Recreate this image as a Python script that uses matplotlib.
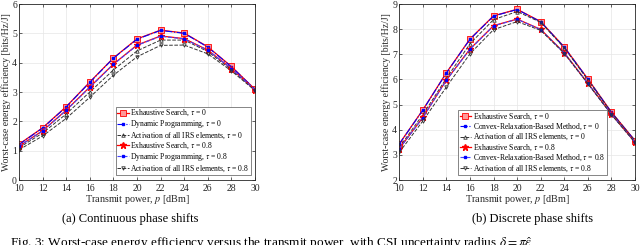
import matplotlib
matplotlib.use("Agg")
import matplotlib.pyplot as plt

plt.rcParams['font.family'] = ['Liberation Serif', 'DejaVu Serif']
plt.rcParams['mathtext.fontset'] = 'stix'

p = [10, 12, 14, 16, 18, 20, 22, 24, 26, 28, 30]

# (a) Continuous phase shifts
a_es0 = [1.22, 1.78, 2.50, 3.34, 4.16, 4.81, 5.11, 5.01, 4.54, 3.87, 3.09]
a_dp0 = [1.21, 1.77, 2.49, 3.33, 4.15, 4.80, 5.10, 5.00, 4.53, 3.86, 3.09]
a_all0 = [1.10, 1.60, 2.25, 3.00, 3.75, 4.40, 4.77, 4.77, 4.38, 3.76, 3.07]
a_es8 = [1.15, 1.68, 2.38, 3.17, 3.95, 4.60, 4.91, 4.82, 4.43, 3.80, 3.07]
a_dp8 = [1.15, 1.67, 2.37, 3.16, 3.94, 4.59, 4.90, 4.81, 4.42, 3.80, 3.07]
a_all8 = [1.03, 1.50, 2.10, 2.82, 3.57, 4.20, 4.59, 4.60, 4.30, 3.72, 3.05]

# (b) Discrete phase shifts
b_es0 = [3.44, 4.79, 6.27, 7.61, 8.53, 8.79, 8.30, 7.29, 6.02, 4.70, 3.57]
b_cr0 = [3.43, 4.78, 6.26, 7.60, 8.52, 8.78, 8.29, 7.28, 6.01, 4.69, 3.56]
b_all0 = [3.30, 4.60, 6.05, 7.42, 8.38, 8.70, 8.27, 7.25, 5.98, 4.68, 3.55]
b_es8 = [3.25, 4.49, 5.98, 7.21, 8.14, 8.40, 7.99, 7.06, 5.85, 4.62, 3.50]
b_cr8 = [3.24, 4.48, 5.97, 7.20, 8.13, 8.39, 7.98, 7.05, 5.84, 4.61, 3.50]
b_all8 = [3.10, 4.35, 5.70, 7.02, 7.98, 8.30, 7.95, 7.03, 5.83, 4.60, 3.49]

xticks = [10, 12, 14, 16, 18, 20, 22, 24, 26, 28, 30]

fig = plt.figure(figsize=(6.4, 2.45), dpi=100)

def style_axes(ax, ylim, yticks):
    ax.set_xlim(10, 30)
    ax.set_ylim(*ylim)
    ax.set_xticks(xticks)
    ax.set_yticks(yticks)
    ax.grid(True, color='#e6e6e6', linewidth=0.5)
    ax.set_axisbelow(True)
    ax.tick_params(direction='in', length=2, width=0.5, labelsize=7,
                   top=True, right=True, pad=1.5, colors='#262626')
    ax.tick_params(axis='x', pad=3)
    for s in ax.spines.values():
        s.set_linewidth(0.6)
        s.set_color('#262626')
    ax.set_xlabel('Transmit power, $p$ [dBm]', fontsize=7.3, labelpad=0, color='#262626')
    ax.set_ylabel('Worst-case energy efficiency [bits/Hz/J]', fontsize=7, labelpad=1, color='#262626')

def draw(ax, es0, m0, all0, es8, m8, all8, mname, legpos):
    ax.plot(p, es0, '-', color='red', lw=0.9, marker='s', ms=4,
            mfc='#ff9999', mec='red', mew=0.6,
            label=r'Exhaustive Search, $\tau$ = 0')
    ax.plot(p, m0, '-.', color='blue', lw=0.8, marker='s', ms=1.8,
            mfc='blue', mec='blue',
            label=mname + r', $\tau$ = 0')
    ax.plot(p, all0, '--', color='#333333', lw=0.7, marker='^', ms=2.5,
            mfc='none', mec='#333333', mew=0.6,
            label=r'Activation of all IRS elements, $\tau$ = 0')
    ax.plot(p, es8, '-', color='red', lw=0.9, marker='*', ms=4.5,
            mfc='red', mec='red',
            label=r'Exhaustive Search, $\tau$ = 0.8')
    ax.plot(p, m8, '--', color='#4444ff', lw=0.8, marker='s', ms=1.8,
            mfc='blue', mec='blue',
            label=mname + r', $\tau$ = 0.8')
    ax.plot(p, all8, '--', color='#333333', lw=0.7, marker='v', ms=2.5,
            mfc='none', mec='#333333', mew=0.6,
            label=r'Activation of all IRS elements, $\tau$ = 0.8')
    leg = ax.legend(loc='lower right', bbox_to_anchor=legpos, fontsize=5.5,
                    frameon=True, fancybox=False, framealpha=1,
                    edgecolor='#555555', borderpad=0.2, labelspacing=0.0,
                    handlelength=1.5, handletextpad=0.25, borderaxespad=0)
    leg.get_frame().set_linewidth(0.5)

axa = fig.add_axes([19/640, 1-180/245, 236/640, 176/245])
draw(axa, a_es0, a_dp0, a_all0, a_es8, a_dp8, a_all8, 'Dynamic Programming', (0.983, 0.028))
style_axes(axa, (0, 6), [0, 1, 2, 3, 4, 5, 6])

axb = fig.add_axes([399.3/640, 1-180/245, 235.7/640, 176/245])
draw(axb, b_es0, b_cr0, b_all0, b_es8, b_cr8, b_all8, 'Convex-Relaxation-Based Method', (0.881, 0.028))
style_axes(axb, (2, 9), [2, 3, 4, 5, 6, 7, 8, 9])

fig.text(130/640, 1-219/245, '(a) Continuous phase shifts', ha='center', va='center', fontsize=9)
fig.text(533/640, 1-219/245, '(b) Discrete phase shifts', ha='center', va='center', fontsize=9)
fig.text(10/640, 1-244/245, r'Fig. 3: Worst-case energy efficiency versus the transmit power, with CSI uncertainty radius $\delta = \pi\hat{\epsilon}$',
         ha='left', va='center', fontsize=9.5)

fig.savefig('out.png', dpi=100)
